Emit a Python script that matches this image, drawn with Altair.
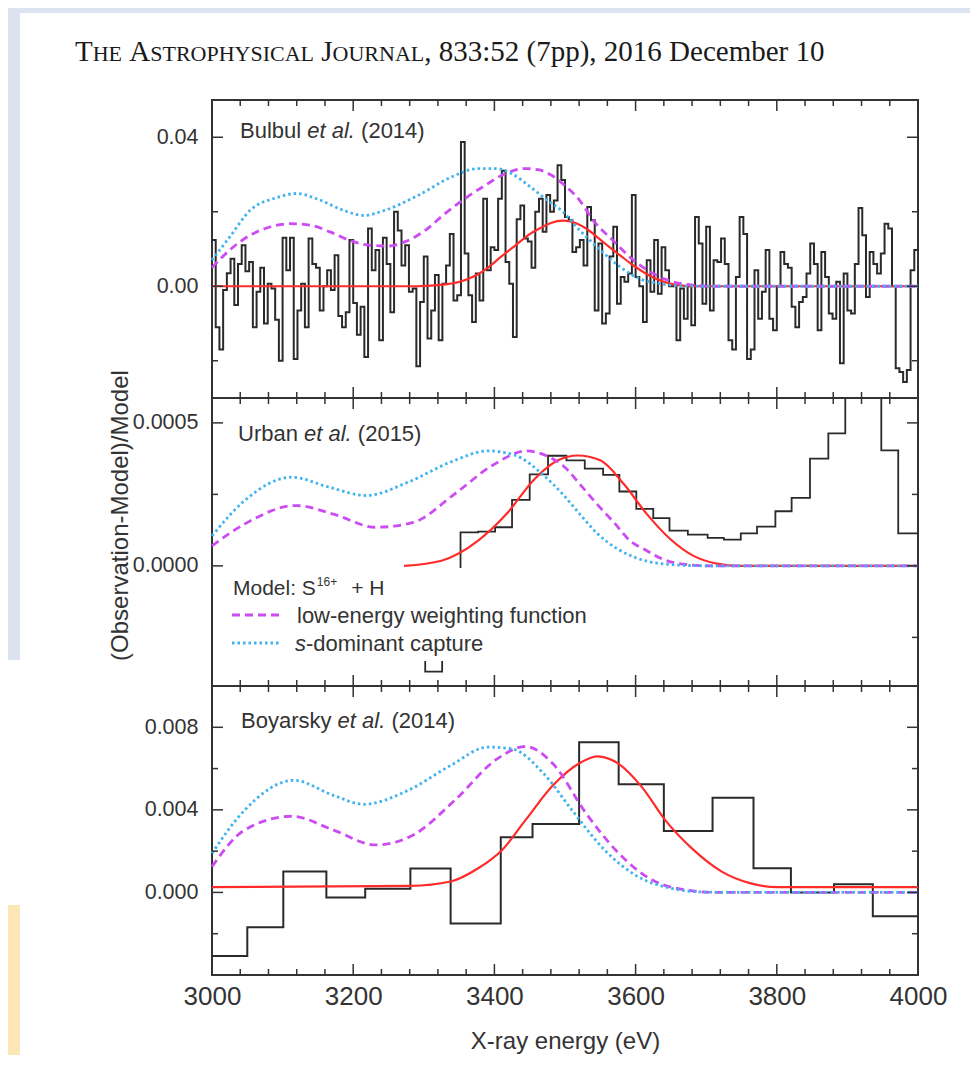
import altair as alt
import pandas as pd

# ---------------- data ----------------
x_major = [3000, 3200, 3400, 3600, 3800, 4000]
x_minor = [3040, 3080, 3120, 3160, 3240, 3280, 3320, 3360, 3440, 3480, 3520, 3560,
           3640, 3680, 3720, 3760, 3840, 3880, 3920, 3960]

# Bulbul et al. (2014) residual histogram (units of 0.01), equal bins 3000-4000 eV
bulbul_res = [
    1.24, -1.1, -1.7, -0.1, 0.35, 0.74, -0.5, 0.6, 1.1, 0.4, 0.65, -1.1, -0.15, 0.5, -1.0, 0.07,
    -0.06, -0.9, -2.0, 1.3, 0.43, 1.3, -1.95, -0.65, 0.07, -1.1, 1.28, 0.6, 0.5, -0.65, 0.0, 0.43,
    -0.1, 0.83, -0.8, -1.1, -0.7, 1.24, -0.45, -1.3, -0.55, -1.9, 1.55, 0.43, 0.97, -1.45, 1.3,
    0.6, -0.7, 2.0, 1.5, 0.56, 1.1, -0.15, -0.06, -2.15, -0.42, 0.8, -1.4, -0.65, 0.3, -1.45, 0.07,
    0.56, 1.4, -0.38, -0.24, 3.87, 0.88, -0.24, -0.96, 0.34, -0.38, 2.35, 0.43, 1.05, 0.97, 2.35,
    3.1, 0.65, 0.07, -1.36, 1.8, 2.17, 1.28, 1.2, 0.5, 2.0, 2.35, 1.46,
    2.45, 2.0, 2.3, 3.25, 2.85, 1.86, 1.77, 0.92, 1.05, 1.24, 0.56, 2.13, 1.77, -0.65, 1.15, -1.0,
    -0.73, 0.8, 1.6, -0.47, 0.25, 0.12, 0.34, 2.45, 0.25, 0.0, -0.96, 0.7, -0.15, 1.24, -0.2, 1.05,
    0.43, 0.0, 0.0, -1.45, -0.06, -0.87, 0.0, -1.05, 1.86, 1.15, -0.47, 1.6, -0.65, 0.7, 0.65, 1.28,
    0.6, -1.45, -1.7, 0.25, 1.86, 1.4, -1.95, -1.7, 0.43, -0.87, -0.15, 0.97, -0.87, -1.18, 0.0,
    0.92, 0.6, 0.5, -0.55, -1.1, -0.42, -0.29, 0.34, 1.15, 0.6, -1.18, 0.92, 0.25, -0.73, -0.87,
    0.12, -2.07, 0.34, -0.65, -0.73, 0.6, 2.1, 1.37, -0.29, 0.92, 0.6, 0.34, 0.88, 1.68, 1.55, 0.0,
    -2.2, -2.3, -2.57, -2.25, 0.43, 0.97]

b1_blue_e = [3000, 3025, 3054, 3092, 3120, 3148, 3186, 3215, 3245, 3292, 3340, 3377, 3401, 3425,
             3448, 3472, 3497, 3521, 3550, 3578, 3606, 3635, 3663, 3700, 4000]
b1_blue_v = [0.7, 1.32, 2.04, 2.38, 2.49, 2.35, 2.04, 1.9, 2.04, 2.44, 2.94, 3.16, 3.16, 3.02,
             2.71, 2.35, 2.0, 1.5, 0.97, 0.52, 0.2, 0.07, 0.01, 0.0, 0.0]
b1_mag_e = [3000, 3025, 3054, 3082, 3111, 3139, 3167, 3195, 3224, 3250, 3273, 3302, 3330, 3358,
            3387, 3415, 3443, 3462, 3481, 3500, 3521, 3540, 3568, 3597, 3625, 3653, 3681, 3710, 4000]
b1_mag_v = [0.5, 0.97, 1.37, 1.59, 1.68, 1.64, 1.46, 1.23, 1.1, 1.08, 1.19, 1.5, 1.95, 2.35,
            2.71, 3.02, 3.16, 3.13, 2.98, 2.7, 2.3, 1.77, 1.23, 0.7, 0.34, 0.12, 0.03, 0.0, 0.0]
b1_red_e = [3000, 3290, 3320, 3351, 3375, 3391, 3410, 3430, 3450, 3464, 3480, 3497, 3515, 3530,
            3547, 3563, 3580, 3596, 3612, 3629, 3645, 3660, 3680, 4000]
b1_red_v = [0.0, 0.0, 0.03, 0.12, 0.3, 0.5, 0.8, 1.1, 1.4, 1.55, 1.7, 1.76, 1.7, 1.55,
            1.3, 1.05, 0.8, 0.57, 0.37, 0.2, 0.09, 0.03, 0.0, 0.0]

# Urban et al. (2015) histogram (units of 1e-4)
urban_edges = [3277, 3302, 3326, 3352, 3377, 3401, 3425, 3450, 3476, 3502, 3528, 3554, 3577,
               3601, 3625, 3648, 3674, 3702, 3725, 3749, 3772, 3798, 3821, 3847, 3873, 3897,
               3922, 3948, 3972, 4000]
urban_vals = [-2.0, -3.7, -1.0, 1.17, 1.2, 1.35, 2.31, 3.2, 3.85, 3.69, 3.4, 3.18, 2.6, 1.99,
              1.67, 1.23, 1.09, 0.98, 0.92, 1.14, 1.37, 1.91, 2.38, 3.75, 4.63, 7.0, 9.0, 4.04,
              1.14]
u_blue_e = [3000, 3046, 3113, 3166, 3219, 3278, 3338, 3391, 3430, 3470, 3497, 3521, 3545, 3574,
            3602, 3639, 3680, 3720, 4000]
u_blue_v = [1.05, 2.28, 3.1, 2.75, 2.46, 2.93, 3.63, 4.02, 3.86, 3.16, 2.5, 1.81, 1.15, 0.6,
            0.27, 0.07, 0.01, 0.0, 0.0]
u_mag_e = [3000, 3046, 3119, 3172, 3232, 3285, 3344, 3397, 3446, 3477, 3497, 3523, 3545, 3570,
           3592, 3616, 3639, 3667, 3709, 4000]
u_mag_v = [0.7, 1.46, 2.11, 1.81, 1.35, 1.52, 2.52, 3.51, 4.02, 3.81, 3.51, 2.8, 2.17, 1.5,
           0.88, 0.53, 0.23, 0.06, 0.0, 0.0]
u_red_e = [3272, 3325, 3377, 3417, 3457, 3490, 3518, 3550, 3583, 3616, 3649, 3682, 3715, 3748, 4000]
u_red_v = [0.0, 0.18, 0.88, 1.81, 3.04, 3.69, 3.86, 3.69, 2.87, 1.81, 0.94, 0.35, 0.08, 0.0, 0.0]

# Boyarsky et al. (2014) histogram (units of 1e-3)
boy_edges = [3000, 3050, 3101, 3162, 3217, 3281, 3338, 3409, 3454, 3520, 3576, 3640, 3709,
             3767, 3820, 3881, 3936, 4000]
boy_vals = [-3.08, -1.69, 1.01, -0.24, 0.18, 1.16, -1.51, 2.67, 3.31, 7.28, 5.24, 2.97, 4.59,
            1.17, 0.0, 0.4, -1.16]
by_blue_e = [3000, 3046, 3116, 3172, 3215, 3278, 3338, 3391, 3424, 3470, 3510, 3556, 3603, 3649,
             3695, 3740, 4000]
by_blue_v = [1.9, 3.98, 5.43, 4.7, 4.27, 4.95, 6.15, 7.04, 6.96, 5.75, 3.98, 2.06, 0.77, 0.21,
             0.02, 0.0, 0.0]
by_mag_e = [3000, 3046, 3113, 3172, 3232, 3285, 3344, 3404, 3444, 3483, 3530, 3576, 3623, 3669,
            3715, 4000]
by_mag_v = [1.25, 3.02, 3.69, 3.02, 2.3, 2.78, 4.47, 6.47, 7.07, 6.23, 3.82, 1.9, 0.61, 0.13,
            0.0, 0.0]
by_red_e = [3000, 3281, 3338, 3377, 3411, 3444, 3483, 3523, 3546, 3576, 3609, 3642, 3682, 3722,
            3762, 3801, 4000]
by_red_v = [0.26, 0.32, 0.53, 1.17, 2.06, 3.5, 5.19, 6.31, 6.59, 6.23, 5.1, 3.5, 2.06, 1.01,
            0.45, 0.26, 0.26]

# ---------------- style / layout ----------------
FONT = "Liberation Sans"
SERIF = "Liberation Serif"
INK = "#333333"
MAG = "#cc4cf2"
BLUE = "#3fb3ef"
RED = "#ff2b2b"
W, H = 706, 875
ONE = pd.DataFrame({"a": [0]})

ARIAL = {"B": .667, "u": .556, "l": .222, "b": .556, " ": .278, "e": .556, "t": .278, "a": .556,
         ".": .278, "(": .333, ")": .333, "U": .722, "r": .333, "n": .556, "o": .556, "y": .5,
         "s": .5, "k": .5, "M": .833, "d": .556, ":": .278, "S": .667, "+": .584, "H": .722,
         "0": .556, "1": .556, "2": .556, "4": .556, "5": .556, "6": .556}
TIMES = {"T": .611, "H": .722, "E": .611, "A": .722, "S": .556, "R": .667, "O": .722, "P": .556,
         "Y": .722, "I": .333, "C": .667, "L": .611, "J": .389, "U": .722, "N": .722, ",": .25,
         " ": .25, ":": .278, "(": .333, ")": .333, "p": .5, "D": .722, "e": .444, "c": .444,
         "m": .778, "b": .5, "r": .333}
for d in "0123456789":
    TIMES[d] = .5


def tw(s, size, table):
    return sum(table.get(c, .55) for c in s) * size


def txt(s, x, y, size, font=FONT, style="normal", color=INK):
    return alt.Chart(ONE).mark_text(
        text=s, font=font, fontSize=size, fontStyle=style, color=color,
        align="left", baseline="alphabetic").encode(x=alt.value(x), y=alt.value(y))


def pieces(parts, x0, y, font=FONT, table=ARIAL, color=INK):
    """Consecutive text runs; leading spaces are turned into explicit offsets."""
    out = []
    x = x0
    for s, st, sz in parts:
        body = s.lstrip(" ")
        lead = s[: len(s) - len(body)]
        xd = x + tw(lead, sz, table)
        if body.strip():
            out.append(txt(body.rstrip(" "), xd, y, sz, font=font, style=st, color=color))
        x += tw(s, sz, table)
    return out


def rect(x1, x2, y1, y2, color):
    return alt.Chart(ONE).mark_rect(color=color, stroke=None).encode(
        x=alt.value(x1), x2=alt.value(x2), y=alt.value(y1), y2=alt.value(y2))


xsc = alt.Scale(domain=[3000, 4000], nice=False, zero=False)
xaxis = alt.Axis(values=x_major, format="d", ticks=False, tickSize=0, domain=False, grid=False,
                 labelFont=FONT, labelFontSize=26, labelColor=INK, labelPadding=8,
                 labelFlush=False, labelOverlap=False,
                 title="X-ray energy (eV)", titleFont=FONT, titleFontSize=24,
                 titleFontWeight="normal", titleColor=INK, titlePadding=20)


def X():
    return alt.X("x:Q", scale=xsc, axis=xaxis)


def yaxis(values, fmt, title=None):
    kw = dict(values=values, format=fmt, orient="left", ticks=False, tickSize=0, domain=False,
              grid=False, labelFont=FONT, labelFontSize=21.5, labelColor=INK, labelPadding=14,
              labelOverlap=False, labelFlush=False)
    if title:
        kw.update(title=title, titleFont=FONT, titleFontSize=24, titleFontWeight="normal",
                  titleColor=INK, titleAngle=270, titleX=-92, titleY=415,
                  titleBaseline="middle", titleAlign="center")
    else:
        kw["title"] = None
    return alt.Axis(**kw)


def step_df(edges, vals, k):
    ys = [v * k for v in vals] + [vals[-1] * k]
    return pd.DataFrame({"x": list(edges), "y": ys})


def curve_df(e, v, k):
    return pd.DataFrame({"x": e, "y": [a * k for a in v]})


def panel(hist, curves, dom, rng, labels, fmt, major, minor, hist_w, title=None):
    ysc = alt.Scale(domain=dom, range=rng, nice=False, zero=False, clamp=True)
    ax = yaxis(labels, fmt, title)

    def Y():
        return alt.Y("y:Q", scale=ysc, axis=ax)

    layers = [alt.Chart(hist).mark_line(interpolate="step-after", color="#2a2a2a",
                                        strokeWidth=hist_w).encode(x=X(), y=Y())]
    for df, col, dash, sw in curves:
        kw = dict(interpolate="monotone", color=col, strokeWidth=sw)
        if dash:
            kw["strokeDash"] = dash
        layers.append(alt.Chart(df).mark_line(**kw).encode(x=X(), y=Y()))
    for vals, L in [(major, 11), (minor, 6)]:
        df = pd.DataFrame({"y": vals})
        layers.append(alt.Chart(df).mark_rule(color=INK, strokeWidth=1.5).encode(
            y=Y(), x=alt.value(0), x2=alt.value(L)))
        layers.append(alt.Chart(df).mark_rule(color=INK, strokeWidth=1.5).encode(
            y=Y(), x=alt.value(W - L), x2=alt.value(W)))
    return alt.layer(*layers)


DASH_M = [8, 5]
DASH_B = [2.5, 3]

k1, k2, k3 = 0.01, 1e-4, 1e-3
nb = len(bulbul_res)
bulbul_edges = [3000 + i * 1000.0 / nb for i in range(nb + 1)]

p1 = panel(step_df(bulbul_edges, bulbul_res, k1),
           [(curve_df(b1_red_e, b1_red_v, k1), RED, None, 2.2),
            (curve_df(b1_mag_e, b1_mag_v, k1), MAG, DASH_M, 2.8),
            (curve_df(b1_blue_e, b1_blue_v, k1), BLUE, DASH_B, 2.8)],
           [-0.030, 0.050], [298, 0], [0.0, 0.04], ".2f", [0.0, 0.04], [-0.02, 0.02], 2.0)

p2 = panel(step_df(urban_edges, urban_vals, k2),
           [(curve_df(u_red_e, u_red_v, k2), RED, None, 2.2),
            (curve_df(u_mag_e, u_mag_v, k2), MAG, DASH_M, 2.8),
            (curve_df(u_blue_e, u_blue_v, k2), BLUE, DASH_B, 2.8)],
           [-0.00042, 0.000587], [586, 298], [0.0, 0.0005], ".4f", [0.0, 0.0005],
           [-0.00025, 0.00025], 1.8, title="(Observation-Model)/Model")

p3 = panel(step_df(boy_edges, boy_vals, k3),
           [(curve_df(by_red_e, by_red_v, k3), RED, None, 2.2),
            (curve_df(by_mag_e, by_mag_v, k3), MAG, DASH_M, 2.8),
            (curve_df(by_blue_e, by_blue_v, k3), BLUE, DASH_B, 2.8)],
           [-0.004, 0.010], [875, 586], [0.0, 0.004, 0.008], ".3f", [0.0, 0.004, 0.008],
           [-0.002, 0.002, 0.006], 2.0)

# page decorations
bg = [rect(-204, 758, -92, -87, "#dde2f1"),
      rect(-204, -192, -92, 560, "#dde2f1"),
      rect(-204, -192, 805, 960, "#fde6b6")]

# legend (in middle panel)
MS = 21
legend = [rect(1, 395, 468, 561, "white")]
legend.append(txt("Model: S", 21, 495, MS))
sup_x = 21 + tw("Model: S", MS, ARIAL) + 1
legend.append(txt("16+", sup_x, 486, 12))
legend.append(txt("+ H", sup_x + tw("16+", 12, ARIAL) + 14, 495, MS))
legend.append(alt.Chart(ONE).mark_rule(color=MAG, strokeWidth=2.8, strokeDash=DASH_M).encode(
    x=alt.value(20), x2=alt.value(67), y=alt.value(515)))
legend.append(alt.Chart(ONE).mark_rule(color=BLUE, strokeWidth=2.8, strokeDash=DASH_B).encode(
    x=alt.value(20), x2=alt.value(67), y=alt.value(543)))
legend.append(txt("low-energy weighting function", 85, 523, 22))
legend += pieces([("s", "italic", 22), ("-dominant capture", "normal", 22)], 83, 551)

# frame separators and x ticks
frame = []
for yy in [298, 586]:
    frame.append(alt.Chart(ONE).mark_rule(color=INK, strokeWidth=2).encode(
        x=alt.value(0), x2=alt.value(W), y=alt.value(yy)))
for y0, d in [(0, 1), (298, -1), (298, 1), (586, -1), (586, 1), (875, -1)]:
    for vals, L in [(x_major, 11), (x_minor, 6)]:
        df = pd.DataFrame({"x": vals})
        frame.append(alt.Chart(df).mark_rule(color=INK, strokeWidth=1.5).encode(
            x=X(), y=alt.value(y0), y2=alt.value(y0 + d * L)))

# panel labels
labels = []
labels += pieces([("Bulbul ", "normal", 22), ("et al.", "italic", 22), (" (2014)", "normal", 22)], 28, 38)
labels += pieces([("Urban ", "normal", 22), ("et al.", "italic", 22), (" (2015)", "normal", 22)], 26, 341)
labels += pieces([("Boyarsky ", "normal", 22), ("et al.", "italic", 22), (" (2014)", "normal", 22)], 29, 628)

# journal header (small caps imitation)
F, f = 29, 22
header = pieces([("T", "normal", F), ("HE", "normal", f), (" A", "normal", F),
                 ("STROPHYSICAL", "normal", f), (" J", "normal", F), ("OURNAL", "normal", f),
                 (", 833:52 (7pp), 2016 December 10", "normal", F)],
                -137, -39, font=SERIF, table=TIMES, color="#1a1a1a")

chart = alt.layer(*bg, p1, p2, *legend, p3, *frame, *labels, *header).resolve_scale(
    y="independent"
).properties(
    width=W, height=H,
    autosize=alt.AutoSizeParams(type="none"),
    padding={"left": 204, "top": 92, "right": 52, "bottom": 80},
    background="white",
).configure_view(stroke=INK, strokeWidth=2)

chart.save("out.html", embed_options={"renderer": "svg", "actions": False})
